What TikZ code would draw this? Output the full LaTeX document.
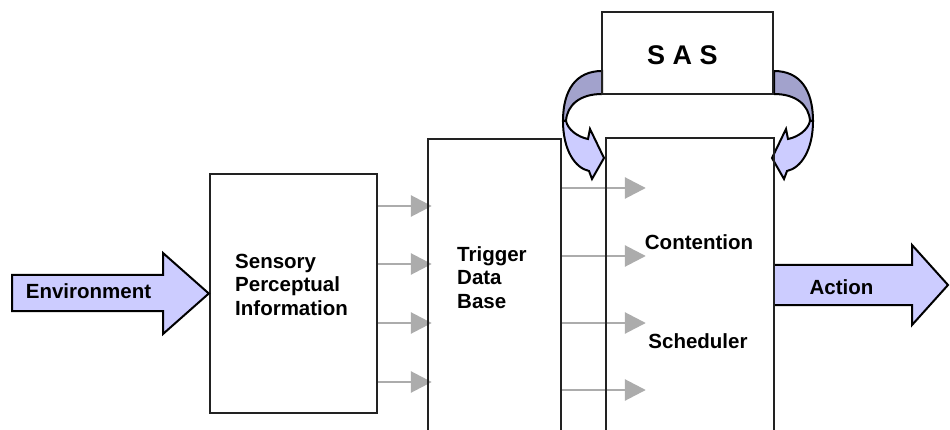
\documentclass[tikz,border=0pt]{standalone}
\usepackage{fontspec}
\setmainfont{Liberation Sans}
\usetikzlibrary{arrows.meta,backgrounds}
\definecolor{lav}{RGB}{204,204,255}
\definecolor{lavdark}{RGB}{162,162,204}
\definecolor{arrgray}{RGB}{172,172,172}
\definecolor{edgec}{RGB}{34,34,34}
\tikzset{
 box/.style={draw=edgec, line width=2.4pt, inner sep=0pt},
 lbl/.style={font=\bfseries\fontsize{20.5}{23.5}\selectfont, inner sep=0pt, align=left},
 feed/.style={draw=arrgray, line width=2.8pt, -{Triangle[length=21pt,width=21pt]}},
 blockarrow/.style={draw=black, line width=2pt, fill=lav, line join=miter},
 curldark/.style={draw=black, line width=2pt, fill=lavdark},
 curllight/.style={draw=black, line width=2pt, fill=lav, line join=miter},
}
\newcommand\sascurl{%
  \filldraw[curldark] (602,71) .. controls (576,71) and (563,90) .. (563,121)
     -- (566,121) .. controls (567,105) and (580,94) .. (602,94) -- cycle;
  \filldraw[curllight] (563,121) .. controls (563,150) and (575,168) .. (589,171)
     -- (592,179) -- (604,158) -- (590,129) -- (588,139)
     .. controls (578,137) and (568,130) .. (566,121) -- cycle;
}
\begin{document}
\begin{tikzpicture}[x=1pt,y=-1pt]
\useasboundingbox (0,0) rectangle (950,430);
\clip (0,0) rectangle (950,430);
% boxes
\node[box, minimum width=167pt, minimum height=239pt] (sens) at (293.5,293.5) {};
\node[box, minimum width=133pt, minimum height=311pt] (trig) at (494.5,294.5) {};
\node[box, minimum width=168pt, minimum height=312pt] (cont) at (690,294) {};
\node[box, minimum width=171pt, minimum height=82pt] (sas) at (687.5,53) {};
% texts
\node[lbl, anchor=west] (sensT) at (235,284.5) {Sensory\\Perceptual\\Information};
\node[lbl, anchor=west] (trigT) at (457,277.5) {Trigger\\Data\\Base};
\node[lbl] (contT) at (699,242) {Contention};
\node[lbl] (schT) at (698,341) {Scheduler};
\node[lbl, font=\bfseries\fontsize{27}{30}\selectfont] (sasT) at (682.5,55) {S A S};
% feed arrows
\coordinate (tw) at ([xshift=5pt]trig.west);
\coordinate (cin) at ([xshift=41pt]cont.west);
\begin{scope}[on background layer]
  \foreach \yy in {206,264,323,382}
    \draw[feed] (sens.east |- 0,\yy) -- (tw |- 0,\yy);
  \foreach \yy in {188,256,323,390}
    \draw[feed] (trig.east |- 0,\yy) -- (cin |- 0,\yy);
  \sascurl
  \begin{scope}[xshift=1376pt, xscale=-1]
    \sascurl
  \end{scope}
\end{scope}
% block arrows
\draw[blockarrow] (12,275) -- (163,275) -- (163,253) -- (sens.west) -- (163,334) -- (163,311) -- (12,311) -- cycle;
\node[lbl] (envT) at (88.5,291) {Environment};
\draw[blockarrow] (cont.east |- 0,265) -- (912,265) -- (912,245) -- (948,285) -- (912,325) -- (912,305) -- (cont.east |- 0,305);
\node[lbl] (actT) at (841.5,287) {Action};
\end{tikzpicture}
\end{document}
